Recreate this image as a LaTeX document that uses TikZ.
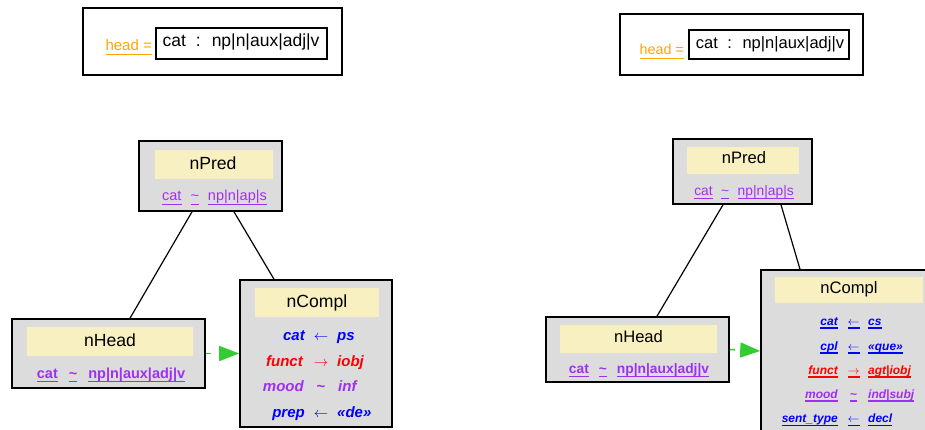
\documentclass[tikz,border=0pt]{standalone}
\usepackage{fontspec}
\setmainfont{Liberation Sans}
\usetikzlibrary{arrows.meta}
\definecolor{boxgray}{HTML}{DCDCDC}
\definecolor{titley}{HTML}{F8F0C0}
\definecolor{purp}{HTML}{A030F0}
\definecolor{orng}{HTML}{FFA500}
\definecolor{blu}{HTML}{0000FF}
\definecolor{rd}{HTML}{FF0000}
\definecolor{grn}{HTML}{33CC33}
\newsavebox{\myulbox}
\newcommand{\fsz}[1]{\fontsize{#1}{#1}\selectfont}
\newcommand{\myul}[1]{{\sbox{\myulbox}{#1}\rlap{\rule[\dimexpr-.2em-1.1pt\relax]{\wd\myulbox}{1.1pt}}\usebox{\myulbox}}}
\newcommand{\la}{$\leftarrow$}
\newcommand{\ra}{$\rightarrow$}
\tikzset{
 fbox/.style={draw=black, fill=boxgray, line width=1.6pt, inner sep=0pt},
 ybox/.style={fill=titley, inner sep=0pt},
 headbox/.style={draw=black, fill=white, line width=1.6pt, inner sep=0pt},
 ibox/.style={draw=black, fill=white, line width=1.3pt, inner sep=0pt},
 txt/.style={inner sep=0pt, anchor=base},
 keyL/.style={txt, anchor=base east, font=\fsz{15}\bfseries\itshape},
 opL/.style={txt, anchor=base, font=\fsz{15}},
 valL/.style={txt, anchor=base west, font=\fsz{15}\bfseries\itshape},
 keyR/.style={txt, anchor=base east, font=\fsz{12}\bfseries\itshape},
 opR/.style={txt, anchor=base, font=\fsz{12}},
 valR/.style={txt, anchor=base west, font=\fsz{12}\bfseries\itshape},
 tree/.style={draw=black, line width=1.2pt},
 inh/.style={draw=grn, line width=1.6pt, dash pattern=on 5pt off 40pt, -{Triangle[length=20pt,width=15pt,fill=grn]}},
}
\begin{document}
\begin{tikzpicture}[x=1pt,y=-1pt]
\useasboundingbox (0,0) rectangle (925,430);
\clip (0,0) rectangle (925,430);
\fill[white] (0,0) rectangle (925,430);

%% ---------- LEFT ----------
\node[headbox, minimum width=259, minimum height=67] (headL) at (212.5,41.5) {};
\node[txt, anchor=base east, font=\fsz{15}, text=orng] (headLbl) at (152,51) {\myul{head =}};
\node[ibox, minimum width=171, minimum height=31] (headIL) at (241.5,43.5) {};
\node[txt, font=\fsz{17.5}] (headTL) at (241,47) {cat\hspace{10pt}:\hspace{11pt}np|n|aux|adj|v};

\node[fbox, minimum width=143, minimum height=70] (nPredL) at (210.5,176) {};
\node[ybox, minimum width=118, minimum height=29] (nPredLy) at (214,164.5) {};
\node[txt, font=\fsz{17.6}] (nPredLt) at (213,170) {nPred};
\node[txt, font=\fsz{14.5}, text=purp] (nPredLr) at (214.5,201) {\myul{cat}\hspace{9pt}\myul{\textasciitilde}\hspace{9pt}\myul{np|n|ap|s}};

\node[fbox, minimum width=193, minimum height=69] (nHeadL) at (108.5,353.5) {};
\node[ybox, minimum width=166, minimum height=29] (nHeadLy) at (110,341.5) {};
\node[txt, font=\fsz{17.6}] (nHeadLt) at (110,346) {nHead};
\node[txt, font=\fsz{14.5}\bfseries, text=purp] (nHeadLr) at (111,378) {\myul{cat}\hspace{11pt}\myul{\textasciitilde}\hspace{11pt}\myul{np|n|aux|adj|v}};

\node[fbox, minimum width=152, minimum height=147] (nComplL) at (316,353.5) {};
\node[ybox, minimum width=124, minimum height=29] (nComplLy) at (317,302.5) {};
\node[txt, font=\fsz{17.6}] (nComplLt) at (317,307) {nCompl};
\node[keyL, text=blu] (lk1) at (305,340) {cat};
\node[opL, text=blu] (lo1) at (321,340) {\la};
\node[valL, text=blu] (lv1) at (337,340) {ps};
\node[keyL, text=rd] (lk2) at (303,366) {funct};
\node[opL, text=rd] (lo2) at (321,366) {\ra};
\node[valL, text=rd] (lv2) at (337,366) {iobj};
\node[keyL, text=purp] (lk3) at (304,391) {mood};
\node[opL, text=purp, font=\fsz{15}\bfseries] (lo3) at (321,391) {\textasciitilde};
\node[valL, text=purp] (lv3) at (338,391) {inf};
\node[keyL, text=blu] (lk4) at (305,417) {prep};
\node[opL, text=blu] (lo4) at (321,417) {\la};
\node[valL, text=blu] (lv4) at (337,417) {«de»};

\draw[tree] ([xshift=-18.5pt]nPredL.south) -- ([xshift=21.5pt]nHeadL.north);
\draw[tree] ([xshift=23.5pt]nPredL.south) -- ([xshift=-42pt]nComplL.north);
\draw[inh] (nHeadL.east) -- (nComplL.west);

%% ---------- RIGHT ----------
\node[headbox, minimum width=243, minimum height=61] (headR) at (741.5,44.5) {};
\node[txt, anchor=base east, font=\fsz{14.3}, text=orng] (headRlbl) at (684,55) {\myul{head =}};
\node[ibox, minimum width=160, minimum height=29] (headIR) at (769,44.5) {};
\node[txt, font=\fsz{16.5}] (headTR) at (770,48.5) {cat\hspace{9.5pt}:\hspace{10.5pt}np|n|aux|adj|v};

\node[fbox, minimum width=139, minimum height=65] (nPredR) at (742.5,171.5) {};
\node[ybox, minimum width=112, minimum height=27] (nPredRy) at (743,160.5) {};
\node[txt, font=\fsz{16.6}] (nPredRt) at (744,164) {nPred};
\node[txt, font=\fsz{13.8}, text=purp] (nPredRr) at (744,195.5) {\myul{cat}\hspace{8.5pt}\myul{\textasciitilde}\hspace{8.5pt}\myul{np|n|ap|s}};

\node[fbox, minimum width=183, minimum height=65] (nHeadR) at (637.5,349.5) {};
\node[ybox, minimum width=157, minimum height=28] (nHeadRy) at (638.5,339) {};
\node[txt, font=\fsz{16.6}] (nHeadRt) at (638.5,342.5) {nHead};
\node[txt, font=\fsz{13.8}\bfseries, text=purp] (nHeadRr) at (639,373.3) {\myul{cat}\hspace{10pt}\myul{\textasciitilde}\hspace{10pt}\myul{np|n|aux|adj|v}};

\node[fbox, minimum width=176, minimum height=162] (nComplR) at (849,351) {};
\node[ybox, minimum width=148, minimum height=26] (nComplRy) at (849,290) {};
\node[txt, font=\fsz{16.6}] (nComplRt) at (849,293) {nCompl};
\node[keyR, text=blu] (rk1) at (838,325) {\myul{cat}};
\node[opR, text=blu] (ro1) at (853.5,325) {\myul{\la}};
\node[valR, text=blu] (rv1) at (868,325) {\myul{cs}};
\node[keyR, text=blu] (rk2) at (838,350) {\myul{cpl}};
\node[opR, text=blu] (ro2) at (853.5,350) {\myul{\la}};
\node[valR, text=blu] (rv2) at (868,350) {\myul{«que»}};
\node[keyR, text=rd] (rk3) at (838,374) {\myul{funct}};
\node[opR, text=rd] (ro3) at (853.5,374) {\myul{\ra}};
\node[valR, text=rd] (rv3) at (868,374) {\myul{agt|iobj}};
\node[keyR, text=purp] (rk4) at (838,398) {\myul{mood}};
\node[opR, text=purp, font=\fsz{12}\bfseries] (ro4) at (853.5,398) {\myul{\textasciitilde}};
\node[valR, text=purp] (rv4) at (868,398) {\myul{ind|subj}};
\node[keyR, text=blu] (rk5) at (838,422.5) {\myul{sent\_type}};
\node[opR, text=blu] (ro5) at (853.5,422.5) {\myul{\la}};
\node[valR, text=blu] (rv5) at (868,422.5) {\myul{decl}};

\draw[tree] ([xshift=-19.5pt]nPredR.south) -- ([xshift=19.5pt]nHeadR.north);
\draw[tree] ([xshift=38.5pt]nPredR.south) -- ([xshift=-49pt]nComplR.north);
\draw[inh] (nHeadR.east) -- (nComplR.west);
\end{tikzpicture}
\end{document}
